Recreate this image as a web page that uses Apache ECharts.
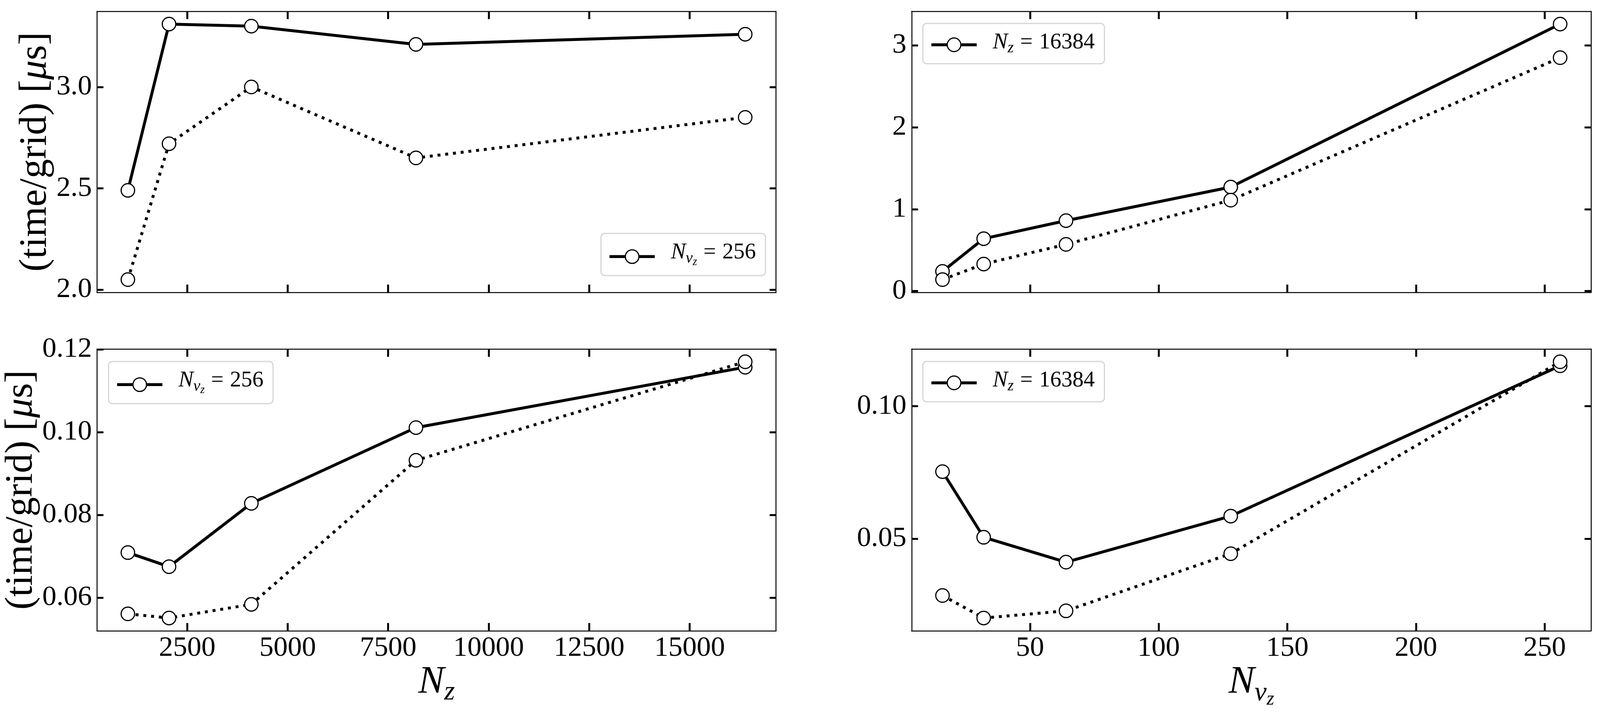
<!DOCTYPE html>
<html>
<head>
<meta charset="utf-8">
<script src="https://cdn.jsdelivr.net/npm/echarts@6/dist/echarts.min.js"></script>
<style>
html, body { margin: 0; padding: 0; background: #fff; overflow: hidden; }
#chart { width: 100vw; height: 100vh; }
</style>
</head>
<body>
<div id="chart"></div>
<script>
// x values
var nzValues = [1024, 2048, 4096, 8192, 16384];
var nvzValues = [16, 32, 64, 128, 256];

// series values
var topLeftSolid = [2.49, 3.31, 3.30, 3.21, 3.26];
var topLeftDotted = [2.05, 2.72, 3.00, 2.65, 2.85];
var topRightSolid = [0.24, 0.64, 0.86, 1.27, 3.26];
var topRightDotted = [0.14, 0.33, 0.57, 1.11, 2.85];
var bottomLeftSolid = [0.0709, 0.0675, 0.0828, 0.1011, 0.1157];
var bottomLeftDotted = [0.0561, 0.0551, 0.0584, 0.0932, 0.1170];
var bottomRightSolid = [0.0753, 0.0505, 0.0411, 0.0585, 0.1153];
var bottomRightDotted = [0.0285, 0.0200, 0.0227, 0.0443, 0.1168];

// tick labels
var nzTicks = [2500, 5000, 7500, 10000, 12500, 15000];
var nvzTicks = [50, 100, 150, 200, 250];
var topLeftTicks = [2.0, 2.5, 3.0];
var topRightTicks = [0, 1, 2, 3];
var bottomLeftTicks = [0.06, 0.08, 0.10, 0.12];
var bottomRightTicks = [0.05, 0.10];

var FONT = "'Liberation Serif', 'DejaVu Serif', serif";

// layout was measured on a 4981x1847 figure; fit it to the real window
var chartDom = document.getElementById('chart');
var sx = chartDom.clientWidth / 4981;
var sy = chartDom.clientHeight / 1847;
var fs = Math.sqrt(sx * sy);
function X(v) { return v * sx; }
function Y(v) { return v * sy; }
function F(v) { return Math.round(v * fs * 10) / 10; }

function zip(xs, ys) {
    var out = [];
    for (var i = 0; i < xs.length; i++) {
        out.push([xs[i], ys[i]]);
    }
    return out;
}

// one axis of a panel; mirror axes only carry the inward ticks
function makeAxis(conf) {
    return {
        type: 'value',
        gridIndex: conf.grid,
        position: conf.position,
        min: conf.min,
        max: conf.max,
        splitLine: {show: false},
        axisLine: {show: true, onZero: false, lineStyle: {color: '#000', width: 2.5}},
        axisTick: {
            show: true,
            inside: true,
            length: conf.tickLen,
            lineStyle: {color: '#000', width: 5},
            customValues: conf.ticks
        },
        axisLabel: {
            show: !!conf.labels,
            inside: false,
            margin: conf.margin || 8,
            color: '#000',
            fontFamily: FONT,
            fontSize: F(80),
            customValues: conf.ticks,
            formatter: function (v) { return v.toFixed(conf.digits || 0); }
        },
        name: conf.name || '',
        nameLocation: 'middle',
        nameGap: conf.nameGap || 0,
        nameRotate: conf.nameRotate || 0,
        nameTextStyle: conf.nameStyle || {}
    };
}

// rotated label: its length runs along y
var yNameStyle = {
    fontFamily: FONT,
    rich: {
        a: {fontFamily: FONT, fontSize: Y(100), color: '#000'},
        m: {fontFamily: FONT, fontSize: Y(100), fontStyle: 'italic', color: '#000'}
    }
};

function sub(size, pb, italic) {
    return {fontFamily: FONT, fontSize: F(size), lineHeight: F(size), fontStyle: italic ? 'italic' : 'normal',
            color: '#000', verticalAlign: 'bottom', padding: [0, 0, F(pb), 0]};
}

var xNameStyle = {
    fontFamily: FONT,
    rich: {
        n1: sub(110, 12, true),
        s1: sub(77, 0, true),
        n2: sub(110, 21, true),
        s2: sub(77, 7, true),
        ss2: sub(55, 0, true)
    }
};

var legendRich = {
    gap: {fontSize: F(63), lineHeight: F(63), padding: [0, 0, F(12), X(44)], verticalAlign: 'bottom'},
    n: sub(63, 12, true),
    v: sub(44, 4, true),
    z: sub(32, 0, true),
    eq: {fontFamily: FONT, fontSize: F(63), lineHeight: F(63), color: '#000', verticalAlign: 'bottom',
         padding: [0, F(18), F(12), F(18)]},
    t: sub(63, 12, false),
    gap2: {fontSize: F(63), lineHeight: F(63), padding: [0, 0, F(7), X(44)], verticalAlign: 'bottom'},
    n2: sub(63, 7, true),
    z2: sub(44, 0, true),
    eq2: {fontFamily: FONT, fontSize: F(63), lineHeight: F(63), color: '#000', verticalAlign: 'bottom',
          padding: [0, F(18), F(7), F(18)]},
    t2: sub(63, 7, false)
};

var legendText = {
    nvz256: '{gap|}{n|N}{v|v}{z|z}{eq|=}{t|256}',
    nz16384: '{gap2|}{n2|N}{z2|z}{eq2|=}{t2|16384}'
};

function makeLegend(name, pos) {
    var lg = {
        data: [name],
        orient: 'vertical',
        itemWidth: X(141),
        itemHeight: F(48),
        padding: [Y(20), X(30), Y(20), X(22)],
        backgroundColor: '#fff',
        borderColor: '#d6d6d6',
        borderWidth: 3,
        borderRadius: 10,
        selectedMode: false,
        lineStyle: {width: 7.5, color: '#000'},
        itemStyle: {color: '#fff', borderColor: '#000', borderWidth: 3},
        textStyle: {fontFamily: FONT, color: '#000', rich: legendRich},
        formatter: function (n) {
            return n.indexOf('nvz') === 0 ? legendText.nvz256 : legendText.nz16384;
        }
    };
    for (var k in pos) { lg[k] = pos[k]; }
    return lg;
}

function makeSeries(name, xi, xs, ys, dotted) {
    return {
        name: name,
        type: 'line',
        xAxisIndex: xi,
        yAxisIndex: xi,
        data: zip(xs, ys),
        symbol: 'circle',
        symbolSize: F(38),
        showSymbol: true,
        silent: true,
        itemStyle: {color: '#fff', borderColor: '#000', borderWidth: 3},
        lineStyle: {
            color: '#000',
            width: 7.5,
            type: dotted ? [7.5, 12.4] : 'solid',
            cap: 'butt'
        },
        emphasis: {disabled: true}
    };
}

var nzRange = [256, 17152];
var nvzRange = [4, 268];
var yRanges = [[1.987, 3.373], [-0.016, 3.416], [0.0520, 0.1201], [0.01516, 0.12164]];

var myChart = echarts.init(chartDom, null, {renderer: 'canvas'});

var xTick = Y(20), yTick = X(20);
var yLabel = '{a|(time/grid) [}{m|μ}{a|s]}';

myChart.setOption({
    animation: false,
    backgroundColor: '#fff',
    grid: [
        {left: X(302), top: Y(29), width: X(2114), height: Y(720)},
        {left: X(2838), top: Y(29), width: X(2115), height: Y(720)},
        {left: X(302), top: Y(894), width: X(2114), height: Y(722)},
        {left: X(2838), top: Y(894), width: X(2115), height: Y(722)}
    ],
    xAxis: [
        makeAxis({grid: 0, position: 'bottom', min: nzRange[0], max: nzRange[1], ticks: nzTicks, tickLen: xTick}),
        makeAxis({grid: 1, position: 'bottom', min: nvzRange[0], max: nvzRange[1], ticks: nvzTicks, tickLen: xTick}),
        makeAxis({grid: 2, position: 'bottom', min: nzRange[0], max: nzRange[1], ticks: nzTicks, tickLen: xTick,
                  labels: true, margin: Y(8), name: '{n1|N}{s1|z}', nameGap: Y(92), nameStyle: xNameStyle}),
        makeAxis({grid: 3, position: 'bottom', min: nvzRange[0], max: nvzRange[1], ticks: nvzTicks, tickLen: xTick,
                  labels: true, margin: Y(8), name: '{n2|N}{s2|v}{ss2|z}', nameGap: Y(92), nameStyle: xNameStyle}),
        makeAxis({grid: 0, position: 'top', min: nzRange[0], max: nzRange[1], ticks: nzTicks, tickLen: xTick}),
        makeAxis({grid: 1, position: 'top', min: nvzRange[0], max: nvzRange[1], ticks: nvzTicks, tickLen: xTick}),
        makeAxis({grid: 2, position: 'top', min: nzRange[0], max: nzRange[1], ticks: nzTicks, tickLen: xTick}),
        makeAxis({grid: 3, position: 'top', min: nvzRange[0], max: nvzRange[1], ticks: nvzTicks, tickLen: xTick})
    ],
    yAxis: [
        makeAxis({grid: 0, position: 'left', min: yRanges[0][0], max: yRanges[0][1], ticks: topLeftTicks,
                  tickLen: yTick, labels: true, digits: 1, margin: X(16),
                  name: yLabel, nameGap: X(127), nameRotate: 90, nameStyle: yNameStyle}),
        makeAxis({grid: 1, position: 'left', min: yRanges[1][0], max: yRanges[1][1], ticks: topRightTicks,
                  tickLen: yTick, labels: true, digits: 0, margin: X(16)}),
        makeAxis({grid: 2, position: 'left', min: yRanges[2][0], max: yRanges[2][1], ticks: bottomLeftTicks,
                  tickLen: yTick, labels: true, digits: 2, margin: X(16),
                  name: yLabel, nameGap: X(127), nameRotate: 90, nameStyle: yNameStyle}),
        makeAxis({grid: 3, position: 'left', min: yRanges[3][0], max: yRanges[3][1], ticks: bottomRightTicks,
                  tickLen: yTick, labels: true, digits: 2, margin: X(16)}),
        makeAxis({grid: 0, position: 'right', min: yRanges[0][0], max: yRanges[0][1], ticks: topLeftTicks, tickLen: yTick}),
        makeAxis({grid: 1, position: 'right', min: yRanges[1][0], max: yRanges[1][1], ticks: topRightTicks, tickLen: yTick}),
        makeAxis({grid: 2, position: 'right', min: yRanges[2][0], max: yRanges[2][1], ticks: bottomLeftTicks, tickLen: yTick}),
        makeAxis({grid: 3, position: 'right', min: yRanges[3][0], max: yRanges[3][1], ticks: bottomRightTicks, tickLen: yTick})
    ],
    legend: [
        makeLegend('nvz256_tl', {right: X(2598), top: Y(598)}),
        makeLegend('nz16384_tr', {left: X(2873), top: Y(60)}),
        makeLegend('nvz256_bl', {left: X(338), top: Y(926)}),
        makeLegend('nz16384_br', {left: X(2873), top: Y(926)})
    ],
    series: [
        makeSeries('nvz256_tl', 0, nzValues, topLeftSolid, false),
        makeSeries('nvz256_tl_dot', 0, nzValues, topLeftDotted, true),
        makeSeries('nz16384_tr', 1, nvzValues, topRightSolid, false),
        makeSeries('nz16384_tr_dot', 1, nvzValues, topRightDotted, true),
        makeSeries('nvz256_bl', 2, nzValues, bottomLeftSolid, false),
        makeSeries('nvz256_bl_dot', 2, nzValues, bottomLeftDotted, true),
        makeSeries('nz16384_br', 3, nvzValues, bottomRightSolid, false),
        makeSeries('nz16384_br_dot', 3, nvzValues, bottomRightDotted, true)
    ]
});
</script>
</body>
</html>
